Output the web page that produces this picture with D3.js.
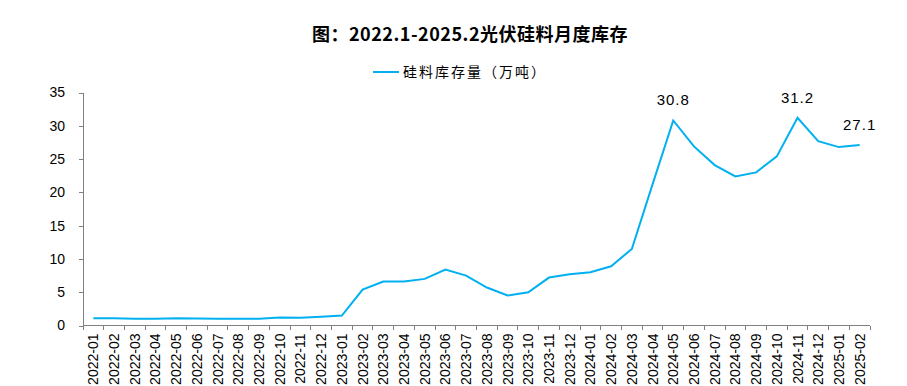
<!DOCTYPE html>
<meta charset="utf-8">
<style>
html, body {
  margin: 0;
  background: #fff;
}

.chart text {
  font-family: "Liberation Sans", Arial, sans-serif;
  fill: #000;
}

.chart .title {
  font-family: "Noto Sans CJK SC", sans-serif;
  font-weight: bold;
  font-size: 18px;
  letter-spacing: 0.5px;
}

.chart .legend-text {
  font-family: "Noto Sans CJK SC", sans-serif;
  font-size: 14px;
  letter-spacing: 2px;
}

.chart .axis path,
.chart .axis line {
  stroke: #808080;
  shape-rendering: crispEdges;
}

.chart .line {
  fill: none;
  stroke: #00b0f0;
  stroke-width: 2;
}
</style>
<body>
<svg class="chart" width="907" height="386"></svg>

<script src="https://d3js.org/d3.v7.min.js"></script>
<script>
"use strict";

var months = [
  "2022-01", "2022-02", "2022-03", "2022-04", "2022-05", "2022-06",
  "2022-07", "2022-08", "2022-09", "2022-10", "2022-11", "2022-12",
  "2023-01", "2023-02", "2023-03", "2023-04", "2023-05", "2023-06",
  "2023-07", "2023-08", "2023-09", "2023-10", "2023-11", "2023-12",
  "2024-01", "2024-02", "2024-03", "2024-04", "2024-05", "2024-06",
  "2024-07", "2024-08", "2024-09", "2024-10", "2024-11", "2024-12",
  "2025-01", "2025-02"
];

var inventory = [
  1.1, 1.1, 1.0, 1.0, 1.1, 1.05, 1.0, 1.0, 1.0, 1.2, 1.15, 1.3,
  1.5, 5.4, 6.6, 6.6, 7.0, 8.4, 7.5, 5.7, 4.5, 5.0, 7.2, 7.7,
  8.0, 8.9, 11.5, 21.2, 30.8, 26.9, 24.1, 22.4, 23.0, 25.4, 31.2, 27.7,
  26.8, 27.1
];

var labelled = ["2024-05", "2024-11", "2025-02"];
var yTicks = [0, 5, 10, 15, 20, 25, 30, 35];
var seriesName = "硅料库存量（万吨）";
var titleText = "图：2022.1-2025.2光伏硅料月度库存";

var margin = { left: 83, right: 37, top: 92.5, bottom: 60.5 },
  width = 907 - margin.left - margin.right,
  height = 386 - margin.top - margin.bottom;

var svg = d3.select(".chart");

svg.append("text")
  .attr("class", "title")
  .attr("x", 470)
  .attr("y", 41)
  .attr("text-anchor", "middle")
  .text(titleText);

// legend
svg.append("line")
  .attr("x1", 373).attr("x2", 399)
  .attr("y1", 72).attr("y2", 72)
  .attr("stroke", "#00b0f0")
  .attr("stroke-width", 2);

svg.append("text")
  .attr("class", "legend-text")
  .attr("x", 403)
  .attr("y", 77)
  .text(seriesName);

var g = svg.append("g")
  .attr("transform", "translate(" + margin.left + "," + margin.top + ")");

var x = d3.scaleBand().domain(months).range([0, width]);
var y = d3.scaleLinear().domain([0, 35]).range([height, 0]);

// y axis
var yAxis = g.append("g")
  .attr("class", "axis")
  .call(d3.axisLeft(y).tickValues(yTicks).tickSize(4).tickSizeOuter(0));
yAxis.selectAll("text")
  .attr("x", -18)
  .style("font-size", "14px");

// x axis, ticks at band edges
var xAxis = g.append("g")
  .attr("class", "axis")
  .attr("transform", "translate(0," + height + ")");

xAxis.append("line")
  .attr("x1", 0).attr("x2", width)
  .attr("y1", 0).attr("y2", 0);

xAxis.selectAll(".edge")
  .data(months.concat(["end"]))
  .join("line")
  .attr("class", "edge")
  .attr("x1", function(d, i) { return i * x.step(); })
  .attr("x2", function(d, i) { return i * x.step(); })
  .attr("y1", 0)
  .attr("y2", 4);

xAxis.selectAll(".lbl")
  .data(months)
  .join("text")
  .attr("class", "lbl")
  .attr("transform", function(d) {
    return "translate(" + (x(d) + x.bandwidth() / 2 + 5) + ",8) rotate(-90)";
  })
  .attr("text-anchor", "end")
  .style("font-size", "14px")
  .text(function(d) { return d; });

var line = d3.line()
  .x(function(d, i) { return x(months[i]) + x.bandwidth() / 2; })
  .y(function(d) { return y(d); });

g.append("path")
  .datum(inventory)
  .attr("class", "line")
  .attr("d", line);

g.selectAll(".value")
  .data(months.filter(function(m) { return labelled.indexOf(m) >= 0; }))
  .join("text")
  .attr("class", "value")
  .attr("x", function(m) { return x(m) + x.bandwidth() / 2; })
  .attr("y", function(m) { return y(inventory[months.indexOf(m)]) - 15; })
  .attr("text-anchor", "middle")
  .style("font-size", "15px")
  .style("letter-spacing", "1px")
  .text(function(m) { return inventory[months.indexOf(m)].toFixed(1); });
</script>
</body>
